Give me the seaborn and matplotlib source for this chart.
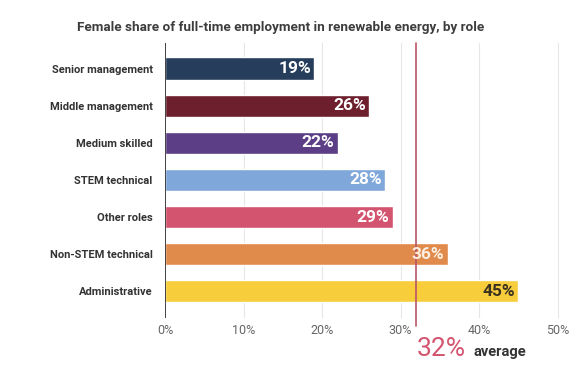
import matplotlib
matplotlib.use("Agg")
import matplotlib.pyplot as plt
import seaborn as sns
import pandas as pd

# Chart data
roles = ["Senior management", "Middle management", "Medium skilled", "STEM technical",
         "Other roles", "Non-STEM technical", "Administrative"]
shares = [19, 26, 22, 28, 29, 36, 45]
bar_colors = ["#263d5c", "#6d1f2e", "#5b3e85", "#7fa7d9", "#d3546f", "#e08b4b", "#f8cd3b"]
label_colors = ["white", "white", "white", "white", "white", "#fbeee2", "#3b3320"]
ticks = [0, 10, 20, 30, 40, 50]
average = 32


def draw_chart():
    sns.set_style("white")
    plt.rcParams["font.family"] = ["Roboto", "DejaVu Sans"]

    df = pd.DataFrame({"role": roles, "share": shares})

    fig = plt.figure(figsize=(5.69, 3.70), dpi=100)
    ax = fig.add_axes([165 / 569, 1 - 318 / 370, 404 / 569, 275 / 370])

    sns.barplot(data=df, x="share", y="role", hue="role", palette=bar_colors,
                order=roles, hue_order=roles, width=0.6, legend=False,
                saturation=1, ax=ax, zorder=3)

    ax.set_xlim(0, 404 / 7.85)
    ax.set_ylim(6.72, -0.69)

    # grid lines
    for t in ticks[1:]:
        ax.axvline(t, color="#e6e6e6", lw=0.8, zorder=1)
    ax.axvline(0, color="#333333", lw=1.3, zorder=4)

    # average line
    ax.axvline(average, ymin=-0.03, ymax=1, color="#b9566a", lw=1.2, zorder=5, clip_on=False)

    # value labels inside bars
    for i, (v, c) in enumerate(zip(shares, label_colors)):
        ax.text(v - 0.4, i, f"{v}%", ha="right", va="center", color=c,
                fontsize=12.5, fontweight="bold", zorder=6)

    ax.set_xticks(ticks)
    ax.set_xticklabels([f"{t}%" for t in ticks], color="#666666", fontsize=9)
    ax.tick_params(axis="x", length=0, pad=4)
    ax.tick_params(axis="y", length=0, pad=9)
    for lab in ax.get_yticklabels():
        lab.set_fontsize(8)
        lab.set_fontweight("bold")
        lab.set_color("#333333")
    ax.set_xlabel("")
    ax.set_ylabel("")
    sns.despine(ax=ax, left=True, bottom=True)

    # average annotation
    fig.text(417 / 569, 1 - 349 / 370, f"{average}%", color="#d3546f", fontsize=19,
             ha="left", va="center")
    fig.text(473 / 569, 1 - 352 / 370, "average", color="#333333", fontsize=10.5,
             fontweight="bold", ha="left", va="center")

    fig.suptitle("Female share of full-time employment in renewable energy, by role",
                 x=281 / 569, y=1 - 27 / 370, fontsize=9.7, fontweight="bold",
                 color="#3d3d3d", va="center")

    fig.savefig("out.png", dpi=100)


if __name__ == "__main__":
    draw_chart()
